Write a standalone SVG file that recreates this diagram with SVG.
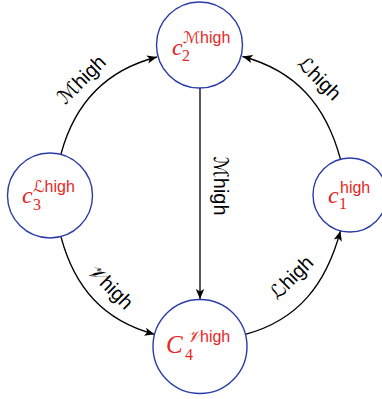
<svg xmlns="http://www.w3.org/2000/svg" width="382" height="399" viewBox="0 0 382 399">
<style>
.node{fill:#ffffff;stroke:#2b3ca8;stroke-width:1.4}
.edge{fill:none;stroke:#000;stroke-width:1.3;marker-end:url(#ah)}
.m{font-family:"Liberation Serif",serif;font-style:italic;fill:#e62624}
.sub{font-family:"Liberation Serif",serif;fill:#e62624}
.sup{font-family:"Liberation Sans",sans-serif;fill:#e62624}
.scr{font-family:"DejaVu Serif","DejaVu Sans",serif;font-style:italic}
.lbl{font-family:"Liberation Sans",sans-serif;font-size:20px;fill:#000;text-anchor:middle}
</style>
<defs>
<marker id="ah" markerWidth="12" markerHeight="10" refX="10" refY="5" orient="auto" markerUnits="userSpaceOnUse">
<path d="M0,0.8 L10,5 L0,9.2 L2.5,5 Z" fill="#000"/>
</marker>
</defs>
<g id="connectors">
<path class="edge" d="M61,154 C75,102 106,70 157,57"/>
<path class="edge" d="M340.4,159 C326,105.4 296,70.7 242.5,56.5"/>
<path class="edge" d="M200,88 L200,299"/>
<path class="edge" d="M61,237 C74.7,287.7 103.4,320.6 154.6,334.3"/>
<path class="edge" d="M245.4,334.3 C298.5,320.1 326.2,283.8 340.4,231"/>
<text class="lbl" transform="translate(82,80) rotate(-45)" dy="6"><tspan class="scr">ℳ</tspan>high</text>
<text class="lbl" transform="translate(319,79) rotate(45)" dy="6"><tspan class="scr">ℒ</tspan>high</text>
<text class="lbl" transform="translate(220,186) rotate(90)" dy="6"><tspan class="scr">ℳ</tspan>high</text>
<text class="lbl" transform="translate(110,287) rotate(45)" dy="6"><tspan class="scr">𝒱</tspan>high</text>
<text class="lbl" transform="translate(292,278) rotate(-45)" dy="6"><tspan class="scr">ℒ</tspan>high</text>
</g>
<g id="c2">
<circle class="node" cx="199.5" cy="45" r="43"/>
<text class="m" x="172" y="55" font-size="24">c</text>
<text class="sub" x="182" y="61" font-size="16">2</text>
<text class="sup" x="183" y="42.5" font-size="16"><tspan class="scr">ℳ</tspan>high</text>
</g>
<g id="c3">
<circle class="node" cx="50" cy="195.5" r="42.5"/>
<text class="m" x="22" y="203" font-size="24">c</text>
<text class="sub" x="33" y="210" font-size="16">3</text>
<text class="sup" x="33" y="192" font-size="16"><tspan class="scr">ℒ</tspan>high</text>
</g>
<g id="c1">
<circle class="node" cx="350" cy="195" r="37"/>
<text class="m" x="328" y="203" font-size="24">c</text>
<text class="sub" x="339" y="209" font-size="16">1</text>
<text class="sup" x="340" y="193" font-size="16">high</text>
</g>
<g id="c4">
<circle class="node" cx="200" cy="346.5" r="47"/>
<text class="m" x="166" y="353" font-size="25">C</text>
<text class="sub" x="185" y="360" font-size="16">4</text>
<text class="sup" x="187" y="342" font-size="16"><tspan class="scr">𝒱</tspan>high</text>
</g>
</svg>
